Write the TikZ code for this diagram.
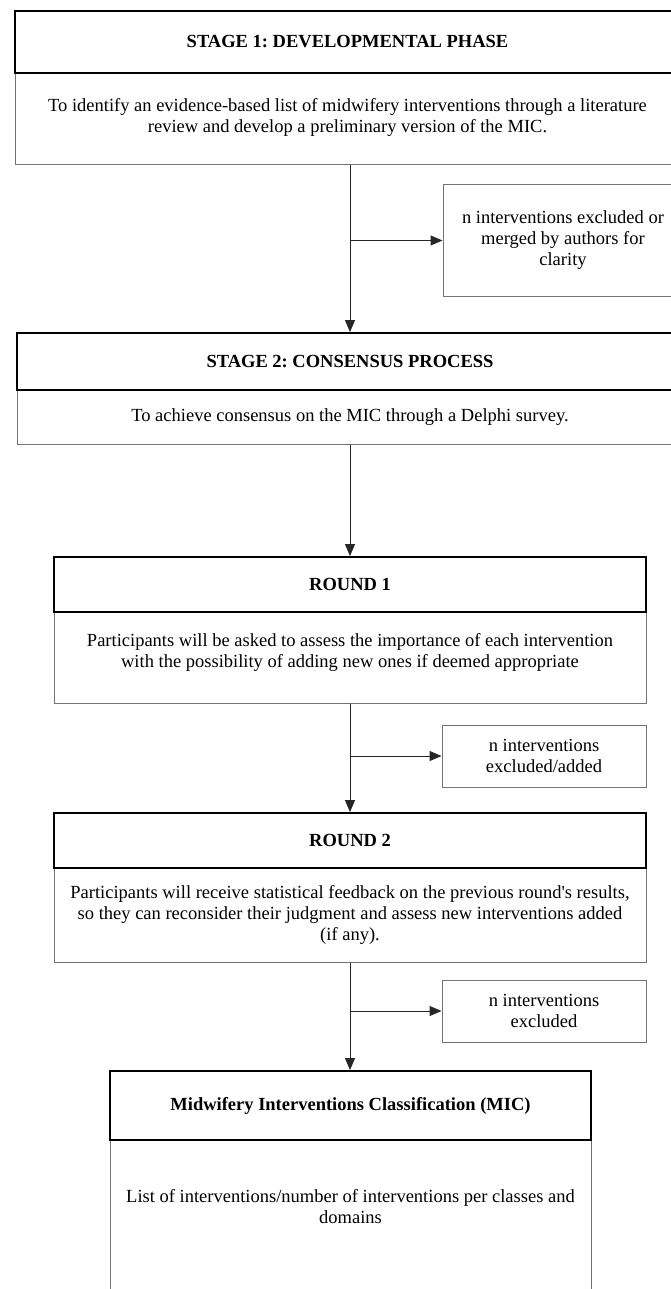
\documentclass[tikz,border=0pt]{standalone}
\usepackage{fontspec}
\setmainfont{Liberation Serif}
\usetikzlibrary{arrows.meta}
\begin{document}
\frenchspacing
\begin{tikzpicture}[x=1pt,y=-1pt,
  hdr/.style={draw=black,line width=1.9pt,fill=white,inner sep=0pt,align=center,
    font=\fontsize{18.5}{21}\selectfont\bfseries},
  bodyb/.style={draw=black!55,line width=1pt,fill=white,inner sep=0pt,align=center,
    font=\fontsize{18.5}{21}\selectfont},
  txt/.style={inner sep=0pt,align=center,font=\fontsize{18.5}{21}\selectfont},
  arr/.style={draw=black!85,line width=1pt,-{Triangle[length=12pt,width=10pt]}}]
\useasboundingbox (0,0) rectangle (671,1289);
\clip (0,0) rectangle (671,1289);
\fill[white] (0,0) rectangle (671,1289);
\coordinate (spine) at (350,0);
% Stage 1
\node[bodyb,minimum width=665,minimum height=92] (s1b) at (347.5,119) {};
\node[txt] (s1t) at (347.5,117)
  {To identify an evidence-based list of midwifery interventions through a literature\\review and develop a preliminary version of the MIC.};
\node[hdr,minimum width=665,minimum height=62] (s1h) at (347.5,42) {STAGE 1: DEVELOPMENTAL PHASE};
% side 1
\node[bodyb,minimum width=240,minimum height=111] (side1) at (563,240.5)
  {n interventions excluded or\\merged by authors for\\clarity};
% Stage 2
\node[bodyb,minimum width=666,minimum height=54] (s2b) at (350,417)
  {To achieve consensus on the MIC through a Delphi survey.};
\node[hdr,minimum width=666,minimum height=57] (s2h) at (350,361.5) {STAGE 2: CONSENSUS PROCESS};
% Round 1
\node[bodyb,minimum width=592,minimum height=91] (r1b) at (350,657.5) {};
\node[txt] (r1t) at (350,652)
  {Participants will be asked to assess the importance of each intervention\\with the possibility of adding new ones if deemed appropriate};
\node[hdr,minimum width=592,minimum height=55] (r1h) at (350,584.5) {ROUND 1};
\node[bodyb,minimum width=204,minimum height=62] (side2) at (544,756)
  {n interventions\\excluded/added};
% Round 2
\node[bodyb,minimum width=592,minimum height=94] (r2b) at (350,915)
  {Participants will receive statistical feedback on the previous round\textquotesingle s results,\\so they can reconsider their judgment and assess new interventions added\\(if any).};
\node[hdr,minimum width=592,minimum height=55] (r2h) at (350,840.5) {ROUND 2};
\node[bodyb,minimum width=204,minimum height=62] (side3) at (544,1011)
  {n interventions\\excluded};
% MIC
\node[bodyb,minimum width=481,minimum height=190,anchor=north] (micb) at (350.5,1140) {};
\node[txt] (micbt) at (350.5,1207)
  {List of interventions/number of interventions per classes and\\domains};
\node[hdr,minimum width=481,minimum height=69] (mich) at (350.5,1105.5)
  {Midwifery Interventions Classification (MIC)};
% connectors
\draw[arr] (s1b.south -| spine) -- (s2h.north -| spine);
\draw[arr] (side1.west -| spine) -- (side1.west);
\draw[arr] (s2b.south -| spine) -- (r1h.north -| spine);
\draw[arr] (r1b.south -| spine) -- (r2h.north -| spine);
\draw[arr] (side2.west -| spine) -- (side2.west);
\draw[arr] (r2b.south -| spine) -- (mich.north -| spine);
\draw[arr] (side3.west -| spine) -- (side3.west);
\end{tikzpicture}
\end{document}
